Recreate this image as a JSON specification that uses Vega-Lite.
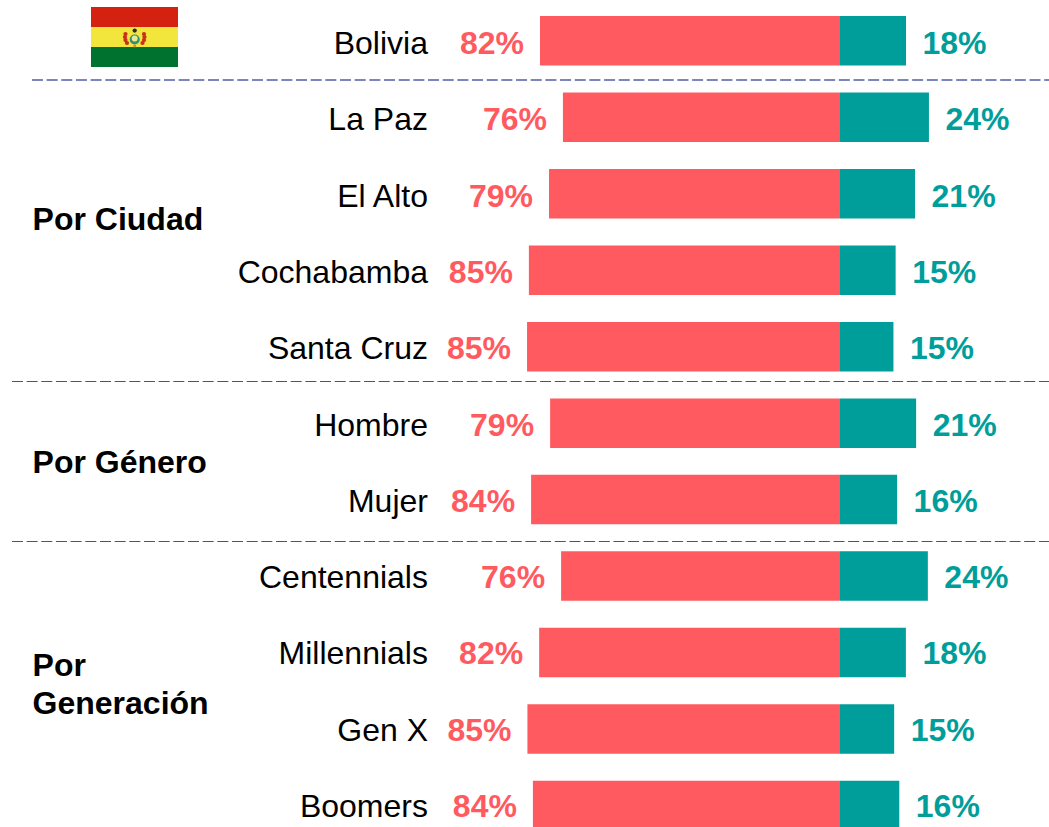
{"$schema":"https://vega.github.io/schema/vega-lite/v6.json","width":1049,"height":827,"autosize":"none","padding":0,"background":"#ffffff","view":{"stroke":null},"config":{"text":{"font":"Liberation Sans","fontSize":32}},
"datasets":{"rows":[
{"name":"Bolivia","row":0,"ty":0.02,"no":-81.97,"si":18.03,"noL":"82%","siL":"18%"},
{"name":"La Paz","row":1,"ty":1.012,"no":-75.7,"si":24.3,"noL":"76%","siL":"24%"},
{"name":"El Alto","row":2,"ty":2.021,"no":-79.5,"si":20.5,"noL":"79%","siL":"21%"},
{"name":"Cochabamba","row":3,"ty":3.018,"no":-85,"si":15.2,"noL":"85%","siL":"15%"},
{"name":"Santa Cruz","row":4,"ty":4.016,"no":-85.5,"si":14.6,"noL":"85%","siL":"15%"},
{"name":"Hombre","row":5,"ty":5.013,"no":-79.2,"si":20.8,"noL":"79%","siL":"21%"},
{"name":"Mujer","row":6,"ty":6.01,"no":-84.4,"si":15.6,"noL":"84%","siL":"16%"},
{"name":"Centennials","row":7,"ty":7.008,"no":-76.2,"si":24,"noL":"76%","siL":"24%"},
{"name":"Millennials","row":8,"ty":8.005,"no":-82.2,"si":18,"noL":"82%","siL":"18%"},
{"name":"Gen X","row":9,"ty":9.003,"no":-85.4,"si":14.8,"noL":"85%","siL":"15%"},
{"name":"Boomers","row":10,"ty":10,"no":-83.9,"si":16.2,"noL":"84%","siL":"16%"}],
"groups":[{"g":"Por Ciudad","row":2.343},{"g":"Por Género","row":5.526},{"g":"Por\nGeneración","row":8.176}],
"flag":[{"band":"rojo","x0":-204.64,"x1":-180.87,"y0":-0.4413,"y1":-0.1798},{"band":"amarillo","x0":-204.64,"x1":-180.87,"y0":-0.1798,"y1":0.0817},{"band":"verde","x0":-204.64,"x1":-180.87,"y0":0.0817,"y1":0.3433}],
"sep1":[{"x0":-220.77,"x1":57.1,"y":0.5132}],
"seps":[{"x0":-226.23,"x1":57.1,"y":4.4557},{"x0":-226.23,"x1":57.1,"y":6.5479}],
"arcs":[{"x":-195.22,"y":-0.0883},{"x":-195.36,"y":-0.049},{"x":-195.22,"y":-0.0098},{"x":-194.81,"y":0.0294},{"x":-190.16,"y":-0.0883},{"x":-190.03,"y":-0.049},{"x":-190.16,"y":-0.0098},{"x":-190.57,"y":0.0294}],
"ring":[{"x":-192.7,"y":-0.0163}],"core":[{"x":-192.7,"y":-0.0294}],"top":[{"x":-192.7,"y":-0.134}],"foot":[{"x":-192.7,"y":0.0686}]},
"encoding":{
"x":{"type":"quantitative","scale":{"domain":[-229.5,57.1],"nice":false,"zero":false,"padding":0},"axis":null},
"y":{"type":"quantitative","scale":{"domain":[10.281,-0.5329],"nice":false,"zero":false,"padding":0},"axis":null}},
"layer":[
{"data":{"name":"flag"},"mark":{"type":"rect"},"encoding":{
"x":{"field":"x0","type":"quantitative"},
"x2":{"field":"x1"},
"y":{"field":"y0","type":"quantitative"},
"y2":{"field":"y1"},
"color":{"field":"band","type":"nominal","scale":{"domain":["rojo","amarillo","verde"],"range":["#d52110","#f2e53c","#00722f"]},"legend":null}}},
{"data":{"name":"arcs"},"mark":{"type":"circle","opacity":1,"size":18,"color":"#c9311c"},"encoding":{"x":{"field":"x","type":"quantitative"},"y":{"field":"y","type":"quantitative"}}},
{"data":{"name":"ring"},"mark":{"type":"circle","opacity":1,"size":100,"color":"#2f8f80"},"encoding":{"x":{"field":"x","type":"quantitative"},"y":{"field":"y","type":"quantitative"}}},
{"data":{"name":"core"},"mark":{"type":"circle","opacity":1,"size":35,"color":"#e9e98f"},"encoding":{"x":{"field":"x","type":"quantitative"},"y":{"field":"y","type":"quantitative"}}},
{"data":{"name":"top"},"mark":{"type":"circle","opacity":1,"size":18,"color":"#2a2a20"},"encoding":{"x":{"field":"x","type":"quantitative"},"y":{"field":"y","type":"quantitative"}}},
{"data":{"name":"foot"},"mark":{"type":"circle","opacity":1,"size":8,"color":"#e08a20"},"encoding":{"x":{"field":"x","type":"quantitative"},"y":{"field":"y","type":"quantitative"}}},
{"data":{"name":"rows"},"mark":{"type":"bar","orient":"horizontal","height":49.5,"color":"#ff5a5f","clip":true},"encoding":{"x":{"field":"no","type":"quantitative","stack":null},"y":{"field":"row","type":"quantitative"}}},
{"data":{"name":"rows"},"mark":{"type":"bar","orient":"horizontal","height":49.5,"color":"#009e9a","clip":true},"encoding":{"x":{"field":"si","type":"quantitative","stack":null},"y":{"field":"row","type":"quantitative"}}},
{"data":{"name":"rows"},"mark":{"type":"text","align":"right","baseline":"middle","fontWeight":"bold","color":"#ff5a5f","dx":-16,"dy":1.5},"encoding":{"x":{"field":"no","type":"quantitative"},"y":{"field":"ty","type":"quantitative"},"text":{"field":"noL"}}},
{"data":{"name":"rows"},"mark":{"type":"text","align":"left","baseline":"middle","fontWeight":"bold","color":"#009e9a","dx":16.5,"dy":1.5},"encoding":{"x":{"field":"si","type":"quantitative"},"y":{"field":"ty","type":"quantitative"},"text":{"field":"siL"}}},
{"data":{"name":"rows"},"mark":{"type":"text","align":"right","baseline":"middle","color":"#000000","dy":1.5},"encoding":{"x":{"datum":-112.57},"y":{"field":"ty","type":"quantitative"},"text":{"field":"name"}}},
{"data":{"name":"groups"},"mark":{"type":"text","align":"left","baseline":"middle","fontWeight":"bold","color":"#000000","lineBreak":"\n","lineHeight":38},"encoding":{"x":{"datum":-220.6},"y":{"field":"row","type":"quantitative"},"text":{"field":"g"}}},
{"data":{"name":"sep1"},"mark":{"type":"rule","color":"#7c86bd","strokeWidth":2,"strokeDash":[11,3.67]},"encoding":{"x":{"field":"x0","type":"quantitative"},"x2":{"field":"x1"},"y":{"field":"y","type":"quantitative"}}},
{"data":{"name":"seps"},"mark":{"type":"rule","color":"#3f51a3","strokeWidth":1,"strokeDash":[11,3.67]},"encoding":{"x":{"field":"x0","type":"quantitative"},"x2":{"field":"x1"},"y":{"field":"y","type":"quantitative"}}}
]}
